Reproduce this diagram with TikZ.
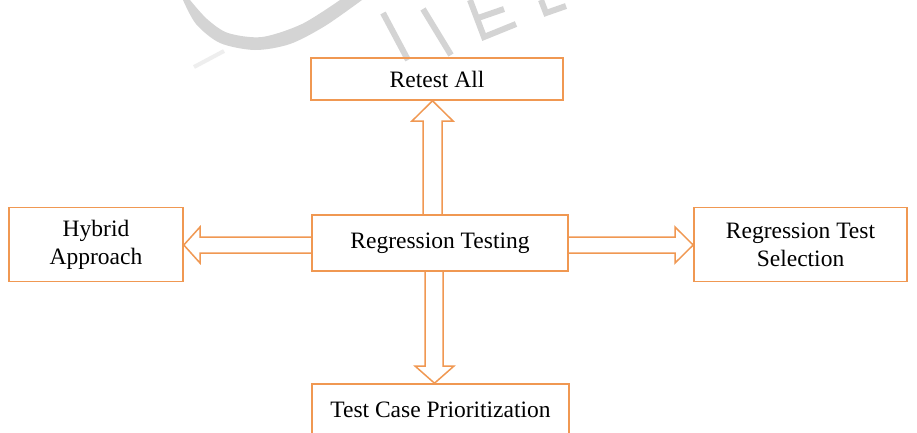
\documentclass[tikz,border=0pt]{standalone}
\usepackage{fontspec}
\setmainfont{Liberation Serif}
\definecolor{boxorange}{RGB}{240,152,82}
\definecolor{wmgray}{RGB}{212,212,212}
\begin{document}
\begin{tikzpicture}[x=1pt,y=-1pt,
  box/.style={draw=boxorange,line width=1.6pt,inner sep=0pt,
    font=\fontsize{23.5}{28}\selectfont,align=center},
  fat/.style={draw=boxorange,line width=1.5pt,line join=miter},
  wm/.style={draw=wmgray,line width=6pt}]
\useasboundingbox (0,0) rectangle (917,432);
\fill[white] (0,0) rectangle (917,432);
% watermark
\fill[wmgray] plot[smooth] coordinates {(183,0) (196,24) (220,43) (255,50) (290,44) (325,26) (362,0)}
  -- plot[smooth] coordinates {(340,0) (302,24) (262,37) (228,33) (207,19) (190,0)} -- cycle;
\draw[draw=wmgray!40,line width=4pt] (194,67) -- (224,51);
\draw[wm] (383,13) -- (408,60);
\draw[wm] (423,9) -- (451,55);
\draw[wm] (470,0) -- (484,37) -- (516,24);
\draw[wm] (478,18) -- (504,9);
\draw[wm] (541,0) -- (546,13) -- (566,6);
% boxes
\node[box,minimum width=252pt,minimum height=42pt] (ret) at (437,79) {Retest All};
\node[box,minimum width=256pt,minimum height=56pt] (reg) at (440,243) {Regression Testing};
\node[box,minimum width=174pt,minimum height=74pt] (hyb) at (96,244.5) {Hybrid\\Approach};
\node[box,minimum width=213pt,minimum height=74pt] (rts) at (800.5,244.5) {Regression Test\\Selection};
\node[box,minimum width=257pt,minimum height=52pt] (tcp) at (440.5,410) {Test Case Prioritization};
% fat arrows
\draw[fat] (reg.north -| 423,0) -- (423,121) -- (412,121) -- (ret.south -| 432.5,0)
  -- (453,121) -- (442,121) -- (reg.north -| 442,0);
\draw[fat] (reg.south -| 425,0) -- (425,366) -- (415,366) -- (tcp.north -| 434.5,0)
  -- (454,366) -- (443,366) -- (reg.south -| 443,0);
\draw[fat] (reg.west |- 0,237) -- (200,237) -- (200,227) -- (hyb.east |- 0,245)
  -- (200,263) -- (200,253) -- (reg.west |- 0,253);
\draw[fat] (reg.east |- 0,237) -- (675,237) -- (675,227) -- (rts.west |- 0,245)
  -- (675,263) -- (675,253) -- (reg.east |- 0,253);
\end{tikzpicture}
\end{document}
